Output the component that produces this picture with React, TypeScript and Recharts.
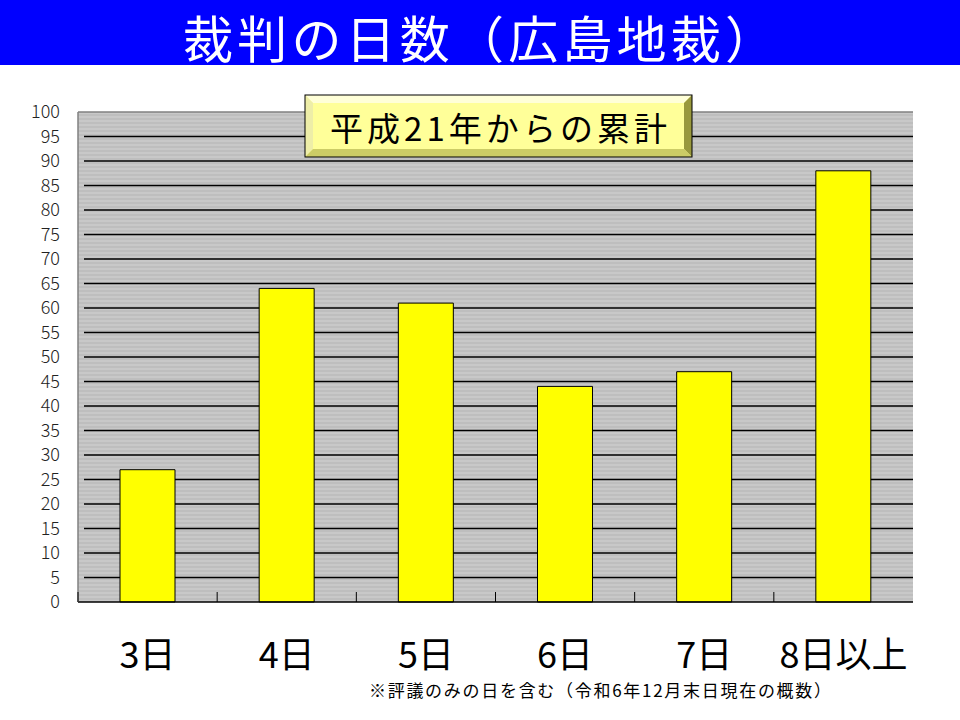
import React from "react"
import {
  Bar,
  BarChart,
  CartesianGrid,
  ReferenceLine,
  XAxis,
  YAxis,
} from "recharts"

const days = ["3日", "4日", "5日", "6日", "7日", "8日以上"]
const trialCounts = [27, 64, 61, 44, 47, 88]
const yTicks = [0, 5, 10, 15, 20, 25, 30, 35, 40, 45, 50, 55, 60, 65, 70, 75, 80, 85, 90, 95, 100]
const gridValues = [5, 10, 15, 20, 25, 30, 35, 40, 45, 50, 55, 60, 65, 70, 75, 80, 85, 90, 95]

const TITLE = "裁判の日数（広島地裁）"
const SUBTITLE = "平成21年からの累計"
const NOTE = "※評議のみの日を含む（令和6年12月末日現在の概数）"

const JP_FONT = '"Noto Sans CJK JP", "Noto Sans", sans-serif'
const LABEL_GAP = 40

const data = days.map((day, i) => ({ day, count: trialCounts[i] }))

// category label plus a short tick at the left edge of its band
function DayTick(props: any) {
  const { x, y, payload } = props
  const axisY = y - LABEL_GAP
  const left = x - (payload.offset || 0)
  return (
    <g>
      <line x1={left} y1={axisY} x2={left} y2={axisY - 10} stroke="#000" strokeWidth={1} />
      <text
        x={x}
        y={y}
        dy="0.71em"
        textAnchor="middle"
        fontSize={36}
        fontFamily={JP_FONT}
        fontWeight={400}
        fill="#000"
      >
        {payload.value}
      </text>
    </g>
  )
}

// gridlines start a little right of the plot's left border, as in the original
function GridLine(props: any) {
  const { x1, y1, x2, y2 } = props
  return <line x1={x1 + 6} y1={y1} x2={x2} y2={y2} stroke="#000" strokeWidth={1.5} />
}

// bevelled label box drawn over the plot
function BevelBox() {
  const x0 = 305
  const y0 = 95
  const x1 = 692
  const y1 = 157
  const b = 8
  return (
    <g>
      <rect x={x0} y={y0} width={x1 - x0} height={y1 - y0} fill="#FFFF99" />
      <polygon points={`${x0},${y0} ${x1},${y0} ${x1 - b},${y0 + b} ${x0 + b},${y0 + b}`} fill="#FFFFD8" />
      <polygon points={`${x0},${y0} ${x0 + b},${y0 + b} ${x0 + b},${y1 - b} ${x0},${y1}`} fill="#EEEEA8" />
      <polygon points={`${x1},${y0} ${x1},${y1} ${x1 - b},${y1 - b} ${x1 - b},${y0 + b}`} fill="#99993D" />
      <polygon points={`${x0},${y1} ${x1},${y1} ${x1 - b},${y1 - b} ${x0 + b},${y1 - b}`} fill="#CCCC66" />
      <rect x={x0} y={y0} width={x1 - x0} height={y1 - y0} fill="none" stroke="#000" strokeWidth={1} />
      <text
        x={330}
        y={141}
        fontSize={33}
        fontFamily={JP_FONT}
        fill="#000"
        textLength={337}
        lengthAdjust="spacing"
      >
        {SUBTITLE}
      </text>
    </g>
  )
}

export default function App() {
  return (
    <div style={{ position: "absolute", left: 0, top: 0, width: 960, height: 720, background: "#fff" }}>
      <div style={{ position: "absolute", left: 0, top: 0 }}>
        <BarChart
          width={960}
          height={720}
          data={data}
          margin={{ top: 112, right: 47, left: 18, bottom: 58 }}
        >
          <defs>
            <pattern id="stripes" patternUnits="userSpaceOnUse" width={8} height={4}>
              <rect x={0} y={0} width={8} height={4} fill="#BEBEBE" />
              <rect x={0} y={0} width={8} height={2} fill="#C8C8C8" />
            </pattern>
          </defs>
          <CartesianGrid
            vertical={false}
            horizontal={<GridLine />}
            horizontalValues={gridValues}
            stroke="#000"
            strokeWidth={1.5}
            fill="url(#stripes)"
            fillOpacity={1}
          />
          <XAxis
            dataKey="day"
            interval={0}
            height={60}
            tickLine={false}
            tickSize={0}
            tickMargin={LABEL_GAP}
            axisLine={{ stroke: "#000", strokeWidth: 1.5 }}
            tick={<DayTick />}
          />
          <YAxis
            width={60}
            domain={[0, 100]}
            ticks={yTicks}
            interval={0}
            tickLine={false}
            tickSize={0}
            tickMargin={18}
            axisLine={{ stroke: "#808080", strokeWidth: 1.5 }}
            tick={{ fontSize: 18, fill: "#222", fontFamily: JP_FONT, fontWeight: 300 }}
          />
          <ReferenceLine y={100} stroke="#808080" strokeWidth={1.5} />
          <Bar
            dataKey="count"
            fill="#FFFF00"
            stroke="#000"
            strokeWidth={1}
            barSize={55}
            isAnimationActive={false}
          />
        </BarChart>
      </div>
      <svg
        width={960}
        height={720}
        style={{ position: "absolute", left: 0, top: 0, pointerEvents: "none" }}
      >
        <rect x={0} y={0} width={960} height={65} fill="#0000FF" />
        <text
          x={183}
          y={58}
          fontSize={50}
          fontFamily={JP_FONT}
          fill="#fff"
          textLength={592}
          lengthAdjust="spacing"
        >
          {TITLE}
        </text>
        <BevelBox />
        <text
          x={369}
          y={697}
          fontSize={17}
          fontFamily={JP_FONT}
          fill="#000"
          textLength={462}
          lengthAdjust="spacing"
        >
          {NOTE}
        </text>
      </svg>
    </div>
  )
}
